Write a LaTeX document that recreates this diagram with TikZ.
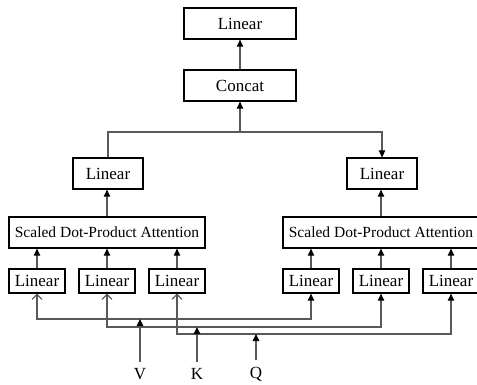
\documentclass[tikz,border=0pt]{standalone}
\usepackage{fontspec}
\setmainfont{Liberation Serif}
\usetikzlibrary{arrows.meta}

\begin{document}
\begin{tikzpicture}[x=1pt,y=-1pt,
    box/.style={draw, line width=1.3pt, inner sep=0pt, minimum height=31pt,
                font=\fontsize{17}{19}\selectfont},
    smallbox/.style={box, minimum width=56pt, minimum height=24pt},
    attbox/.style={box, minimum width=196pt, font=\fontsize{15.5}{17}\selectfont},
    conn/.style={draw=black!65, line width=1.2pt},
    tri/.tip={Triangle[length=7pt,width=6.5pt,color=black]},
    barb/.tip={Straight Barb[length=5pt,width=10pt,line width=1pt,color=black!70]}]
    \useasboundingbox (0,0) rectangle (477,384);

    % Output stack
    \node[box, minimum width=112pt] (out) at (240,23.5) {Linear};
    \node[box, minimum width=112pt] (concat) at (240,85.5) {Concat};
    \draw[conn,-tri] (concat) -- (out);

    % Heads
    \node[box, minimum width=70pt] (linA) at (108,173.5) {Linear};
    \node[box, minimum width=70pt] (linB) at (382,173.5) {Linear};
    \node[attbox] (attA) at (107,232.5) {Scaled Dot-Product Attention};
    \node[attbox] (attB) at (381,232.5) {Scaled Dot-Product Attention};

    % Joining the heads
    \coordinate (split) at (240,132);
    \draw[conn,-tri] (linA.north) |- (split) -| (linB.north);
    \draw[conn,-tri] (split) -- (concat);
    \draw[conn,-tri] (attA.north) -- (attA.north |- linA.south);
    \draw[conn,-tri] (attB.north) -- (attB.north |- linB.south);

    % Projections of V, K, Q
    \foreach \x/\n in {37/1,107/2,177/3} {
        \node[smallbox] (la\n) at (\x,281) {Linear};
        \draw[conn,-tri] (la\n.north) -- (la\n.north |- attA.south);
    }
    \foreach \x/\n in {311/1,381/2,451/3} {
        \node[smallbox] (lb\n) at (\x,281) {Linear};
        \draw[conn,-tri] (lb\n.north) -- (lb\n.north |- attB.south);
    }

    % Shared input lines
    \foreach \n/\y in {1/319,2/327,3/334} {
        \coordinate (bus\n) at (0,\y);
        \draw[conn,barb-tri] (la\n.south) |- (bus\n -| lb\n.south) -- (lb\n.south);
    }

    % Inputs
    \foreach \x/\t/\n in {140/V/1,197/K/2,256/Q/3} {
        \node[font=\fontsize{17}{19}\selectfont] (in\n) at (\x,374) {\t};
        \draw[conn,-tri] (in\n.north) ++(0,-3) -- (bus\n -| in\n.north);
    }
\end{tikzpicture}
\end{document}
